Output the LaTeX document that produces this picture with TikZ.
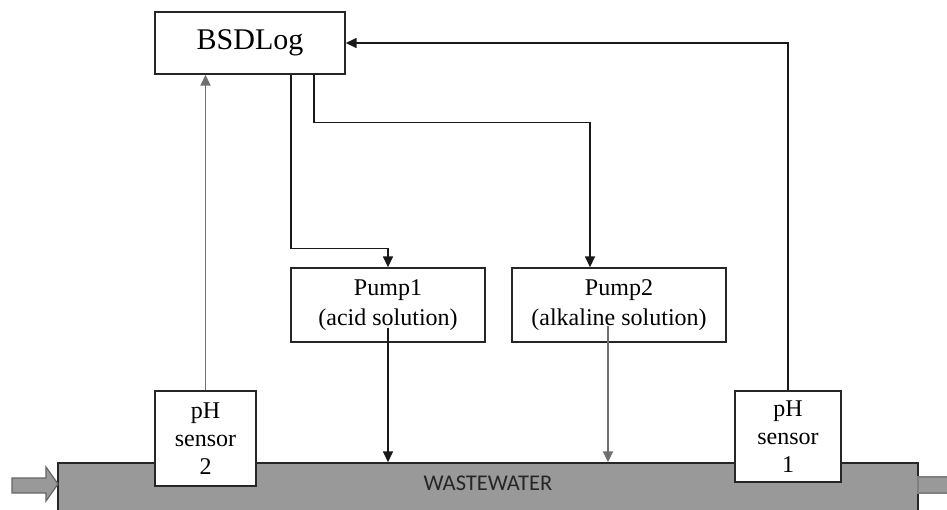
\documentclass[tikz,border=0pt]{standalone}
\usepackage{fontspec}
\setmainfont{Liberation Serif}
\newfontfamily\wwfont{Carlito}
\usetikzlibrary{arrows.meta,calc}
\definecolor{wwgrey}{HTML}{999999}
\definecolor{lgrey}{HTML}{707070}
\tikzset{
  box/.style={draw=black!85, line width=1.4pt, fill=white, rectangle, inner sep=0pt, align=center},
  conn/.style={line width=1.5pt, draw=black!90},
  greyconn/.style={line width=1.8pt, draw=lgrey},
  arr/.style={-{Triangle[length=11pt,width=10pt]}},
}
\begin{document}
\begin{tikzpicture}[x=1pt,y=-1pt]
\useasboundingbox (0,0) rectangle (947,509);
% wastewater channel
\node[draw=black!85, line width=1.4pt, fill=wwgrey, rectangle, minimum width=860pt, minimum height=52pt, inner sep=0pt] (ww) at (488,489) {};
\node[font=\wwfont\fontsize{22.5}{24}\selectfont, text=black!85] (wwtext) at (488,483) {WASTEWATER};
% inlet arrow and outlet
\draw[fill=wwgrey, draw=black!60, line width=1.2pt] (12,478) -- (46,478) -- (46,467) -- (58,484) -- (46,501) -- (46,493) -- (12,493) -- cycle;
\draw[fill=wwgrey, draw=black!50, line width=1.2pt] (918,477) rectangle (952,493);
% boxes
\node[box, minimum width=190pt, minimum height=62pt, font=\fontsize{30}{32}\selectfont] (bsd) at (250,43) {BSDLog};
\node[box, minimum width=194pt, minimum height=74pt, font=\fontsize{24}{30}\selectfont] (p1) at (388,305) {Pump1\\(acid solution)};
\node[box, minimum width=214pt, minimum height=74pt, font=\fontsize{24}{30}\selectfont] (p2) at (619,305) {Pump2\\(alkaline solution)};
\node[box, minimum width=101pt, minimum height=95pt, font=\fontsize{24}{28}\selectfont] (ph2) at (205.5,438.5) {pH\\sensor\\2};
\node[box, minimum width=106pt, minimum height=91pt, font=\fontsize{24}{28}\selectfont] (ph1) at (788,436.5) {pH\\sensor\\1};
% connectors
\draw[conn, arr] (ph1.north) |- (bsd.east);
\draw[greyconn, arr] (ph2.north) -- (ph2.north |- bsd.south);
\draw[conn, arr] ([xshift=41pt]bsd.south) -- ++(0,174) -| (p1.north);
\draw[conn, arr] ([xshift=64pt]bsd.south) -- ++(0,48) -| ([xshift=-29pt]p2.north);
\draw[conn, arr] ([yshift=15pt]p1.south) -- (p1.south |- ww.north);
\draw[greyconn, arr] ([xshift=-11pt,yshift=17pt]p2.south) -- ([xshift=-11pt]p2.south |- ww.north);
\end{tikzpicture}
\end{document}
